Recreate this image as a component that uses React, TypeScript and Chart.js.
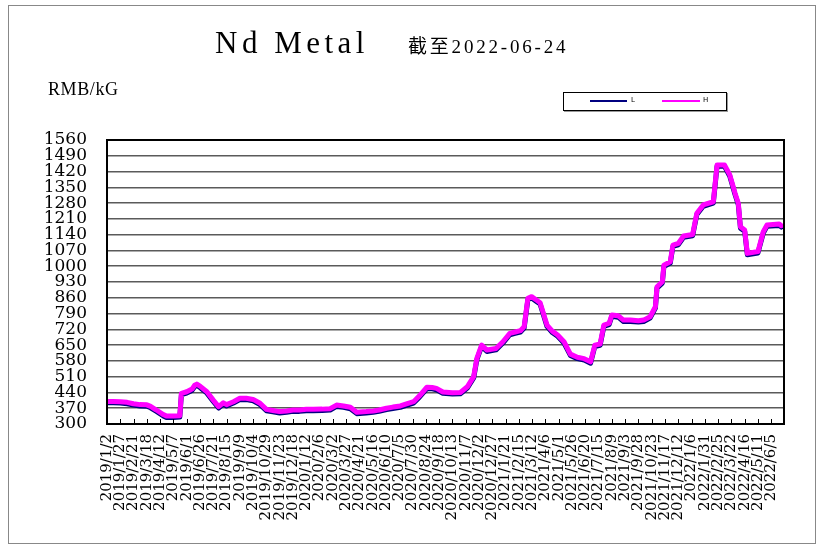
import React, { useEffect, useRef } from 'react';
import { Chart, registerables } from 'chart.js';

Chart.register(...registerables);

// Category labels on the x axis (one every 25 days)
const xLabels = [
  '2019/1/2', '2019/1/27', '2019/2/21', '2019/3/18', '2019/4/12', '2019/5/7', '2019/6/1', '2019/6/26', '2019/7/21', '2019/8/15',
  '2019/9/9', '2019/10/4', '2019/10/29', '2019/11/23', '2019/12/18', '2020/1/12', '2020/2/6', '2020/3/2', '2020/3/27', '2020/4/21',
  '2020/5/16', '2020/6/10', '2020/7/5', '2020/7/30', '2020/8/24', '2020/9/18', '2020/10/13', '2020/11/7', '2020/12/2', '2020/12/27',
  '2021/1/21', '2021/2/15', '2021/3/12', '2021/4/6', '2021/5/1', '2021/5/26', '2021/6/20', '2021/7/15', '2021/8/9', '2021/9/3',
  '2021/9/28', '2021/10/23', '2021/11/17', '2021/12/12', '2022/1/6', '2022/1/31', '2022/2/25', '2022/3/22', '2022/4/16', '2022/5/11',
  '2022/6/5',
];

// Days since 2019/1/2 for each observation
const days = [
  0, 12, 25, 38, 50, 62, 75, 82, 93, 106,
  112, 125, 137, 140, 150, 160, 165, 169, 175, 188,
  200, 210, 219, 225, 238, 250, 262, 275, 288, 300,
  312, 325, 338, 350, 362, 375, 388, 405, 420, 432,
  445, 458, 470, 488, 501, 512, 526, 538, 552, 562,
  577, 588, 602, 612, 620, 632, 650, 665, 678, 690,
  696, 705, 715, 732, 745, 758, 768, 778, 785, 792,
  799, 808, 815, 828, 838, 848, 860, 872, 885, 898,
  910, 918, 928, 935, 945, 950, 962, 972, 985, 1000,
  1010, 1022, 1032, 1035, 1045, 1048, 1060, 1065, 1075, 1085,
  1102, 1110, 1122, 1141, 1148, 1162, 1172, 1182, 1188, 1192,
  1200, 1205, 1225, 1235, 1242, 1265, 1269,
];

// H series (RMB/kG)
const highPrice = [
  400, 400, 399, 396, 390, 386, 385, 378, 362, 342,
  335, 335, 337, 436, 443, 455, 472, 477, 468, 443,
  406, 377, 394, 386, 399, 414, 414, 409, 392, 365,
  360, 355, 358, 362, 362, 365, 365, 366, 368, 384,
  380, 374, 352, 355, 358, 362, 370, 375, 380, 388,
  399, 425, 463, 462, 458, 442, 439, 440, 465, 510,
  591, 650, 628, 635, 665, 702, 708, 714, 732, 858,
  865, 850, 838, 739, 712, 695, 665, 610, 596, 590,
  576, 650, 655, 739, 747, 784, 780, 761, 761, 758,
  761, 776, 820, 909, 931, 1005, 1020, 1094, 1101, 1134,
  1141, 1235, 1272, 1286, 1449, 1449, 1405, 1323, 1279, 1175,
  1161, 1057, 1065, 1153, 1183, 1187, 1180,
];

// L series (RMB/kG)
const lowPrice = [
  394, 394, 393, 390, 384, 380, 379, 372, 356, 336,
  329, 329, 331, 430, 437, 449, 466, 471, 462, 437,
  400, 371, 388, 380, 393, 408, 408, 403, 386, 359,
  354, 349, 352, 356, 356, 359, 359, 360, 362, 378,
  374, 368, 346, 349, 352, 356, 364, 369, 374, 382,
  393, 419, 457, 456, 452, 436, 433, 434, 459, 504,
  585, 644, 622, 629, 659, 696, 702, 708, 726, 852,
  859, 844, 832, 733, 706, 689, 659, 604, 590, 584,
  570, 644, 649, 733, 741, 778, 774, 755, 755, 752,
  755, 770, 814, 903, 925, 999, 1014, 1088, 1095, 1128,
  1135, 1229, 1266, 1280, 1443, 1443, 1399, 1317, 1273, 1169,
  1155, 1051, 1059, 1147, 1177, 1181, 1174,
];

const yMin = 300;
const yMax = 1560;
const yStep = 70;
const dayStep = 25;
const axisEndDay = 1274;

export default function App() {
  const canvasRef = useRef<HTMLCanvasElement>(null);

  useEffect(() => {
    if (!canvasRef.current) return;

    const framePlugin = {
      id: 'framePlugin',
      afterDraw(chart: any) {
        const { ctx, chartArea: a } = chart;
        const xs = chart.scales.x;
        ctx.save();
        ctx.strokeStyle = '#000';
        ctx.lineWidth = 1;
        ctx.beginPath();
        xLabels.forEach((_, k) => {
          const px = Math.round(xs.getPixelForValue(k * dayStep)) + 0.5;
          ctx.moveTo(px, a.bottom);
          ctx.lineTo(px, a.bottom - 5);
        });
        ctx.stroke();
        ctx.lineWidth = 2;
        ctx.strokeRect(a.left, a.top, a.right - a.left, a.bottom - a.top);
        ctx.restore();
      },
    };

    const chart = new Chart(canvasRef.current, {
      type: 'line',
      data: {
        datasets: [
          {
            label: 'H',
            data: days.map((d, k) => ({ x: d, y: highPrice[k] })),
            borderColor: '#FF00FF',
            backgroundColor: '#FF00FF',
            borderWidth: 5,
            pointRadius: 0,
            tension: 0,
            borderJoinStyle: 'round',
            borderCapStyle: 'round',
          },
          {
            label: 'L',
            data: days.map((d, k) => ({ x: d, y: lowPrice[k] })),
            borderColor: '#000080',
            backgroundColor: '#000080',
            borderWidth: 5,
            pointRadius: 0,
            tension: 0,
            borderJoinStyle: 'round',
            borderCapStyle: 'round',
          },
        ],
      },
      options: {
        responsive: false,
        animation: false,
        devicePixelRatio: 1,
        layout: { padding: { left: 0, right: 40, top: 140, bottom: 0 } },
        plugins: {
          legend: { display: false },
          title: { display: false },
          tooltip: { enabled: false },
        },
        scales: {
          x: {
            type: 'linear',
            min: 0,
            max: axisEndDay,
            grid: { display: false, drawTicks: false },
            border: { display: true, color: '#000', width: 2 },
            afterBuildTicks: (scale: any) => {
              scale.ticks = xLabels.map((_, k) => ({ value: k * dayStep }));
            },
            afterFit: (scale: any) => {
              scale.height = 129;
            },
            ticks: {
              autoSkip: false,
              maxRotation: 90,
              minRotation: 90,
              padding: 10,
              color: '#000',
              font: { family: 'DejaVu Serif', size: 15 },
              callback: (_v: any, i: number) => xLabels[i] ?? '',
            },
          },
          y: {
            type: 'linear',
            min: yMin,
            max: yMax,
            grid: { color: '#5a5a5a', lineWidth: 1.5, drawTicks: false },
            border: { display: true, color: '#000', width: 2 },
            afterFit: (scale: any) => {
              scale.width = 107;
            },
            ticks: {
              stepSize: yStep,
              autoSkip: false,
              padding: 20,
              color: '#000',
              font: { family: 'DejaVu Serif', size: 17 },
              callback: (v: any) => String(v),
            },
          },
        },
      },
      plugins: [framePlugin],
    } as any);

    return () => chart.destroy();
  }, []);

  const abs = (s: React.CSSProperties): React.CSSProperties => ({ position: 'absolute', margin: 0, whiteSpace: 'nowrap', ...s });

  return (
    <div style={{ position: 'fixed', left: 0, top: 0, width: 824, height: 553, background: '#fff' }}>
      <canvas ref={canvasRef} width={824} height={553} style={abs({ left: 0, top: 0, width: 824, height: 553 })} />
      <div style={abs({ left: 8, top: 5, width: 806, height: 537, border: '1px solid #888', pointerEvents: 'none' })} />
      <div style={abs({ left: 215, top: 27, fontFamily: '"Liberation Serif", serif', fontSize: 31, lineHeight: '31px', letterSpacing: 4.5, color: '#000' })}>
        Nd Metal
      </div>
      <div style={abs({ left: 408, top: 37, fontFamily: '"Liberation Serif", "Noto Sans CJK SC", serif', fontSize: 19, lineHeight: '19px', letterSpacing: 2.8, color: '#000' })}>
        截至2022-06-24
      </div>
      <div style={abs({ left: 48, top: 80, fontFamily: '"Liberation Serif", serif', fontSize: 18, lineHeight: '18px', letterSpacing: 0.6, color: '#000' })}>
        RMB/kG
      </div>
      <div style={abs({ left: 563, top: 92, width: 162, height: 17, border: '1px solid #000', boxShadow: '1px 1px 0 #999', background: '#fff' })} />
      <div style={abs({ left: 590, top: 100, width: 37, height: 2, background: '#000080' })} />
      <div style={abs({ left: 631, top: 96, fontFamily: '"DejaVu Sans", sans-serif', fontSize: 7, lineHeight: '9px', color: '#000' })}>L</div>
      <div style={abs({ left: 662, top: 100, width: 38, height: 2, background: '#FF00FF' })} />
      <div style={abs({ left: 703, top: 96, fontFamily: '"DejaVu Sans", sans-serif', fontSize: 7, lineHeight: '9px', color: '#000' })}>H</div>
    </div>
  );
}
